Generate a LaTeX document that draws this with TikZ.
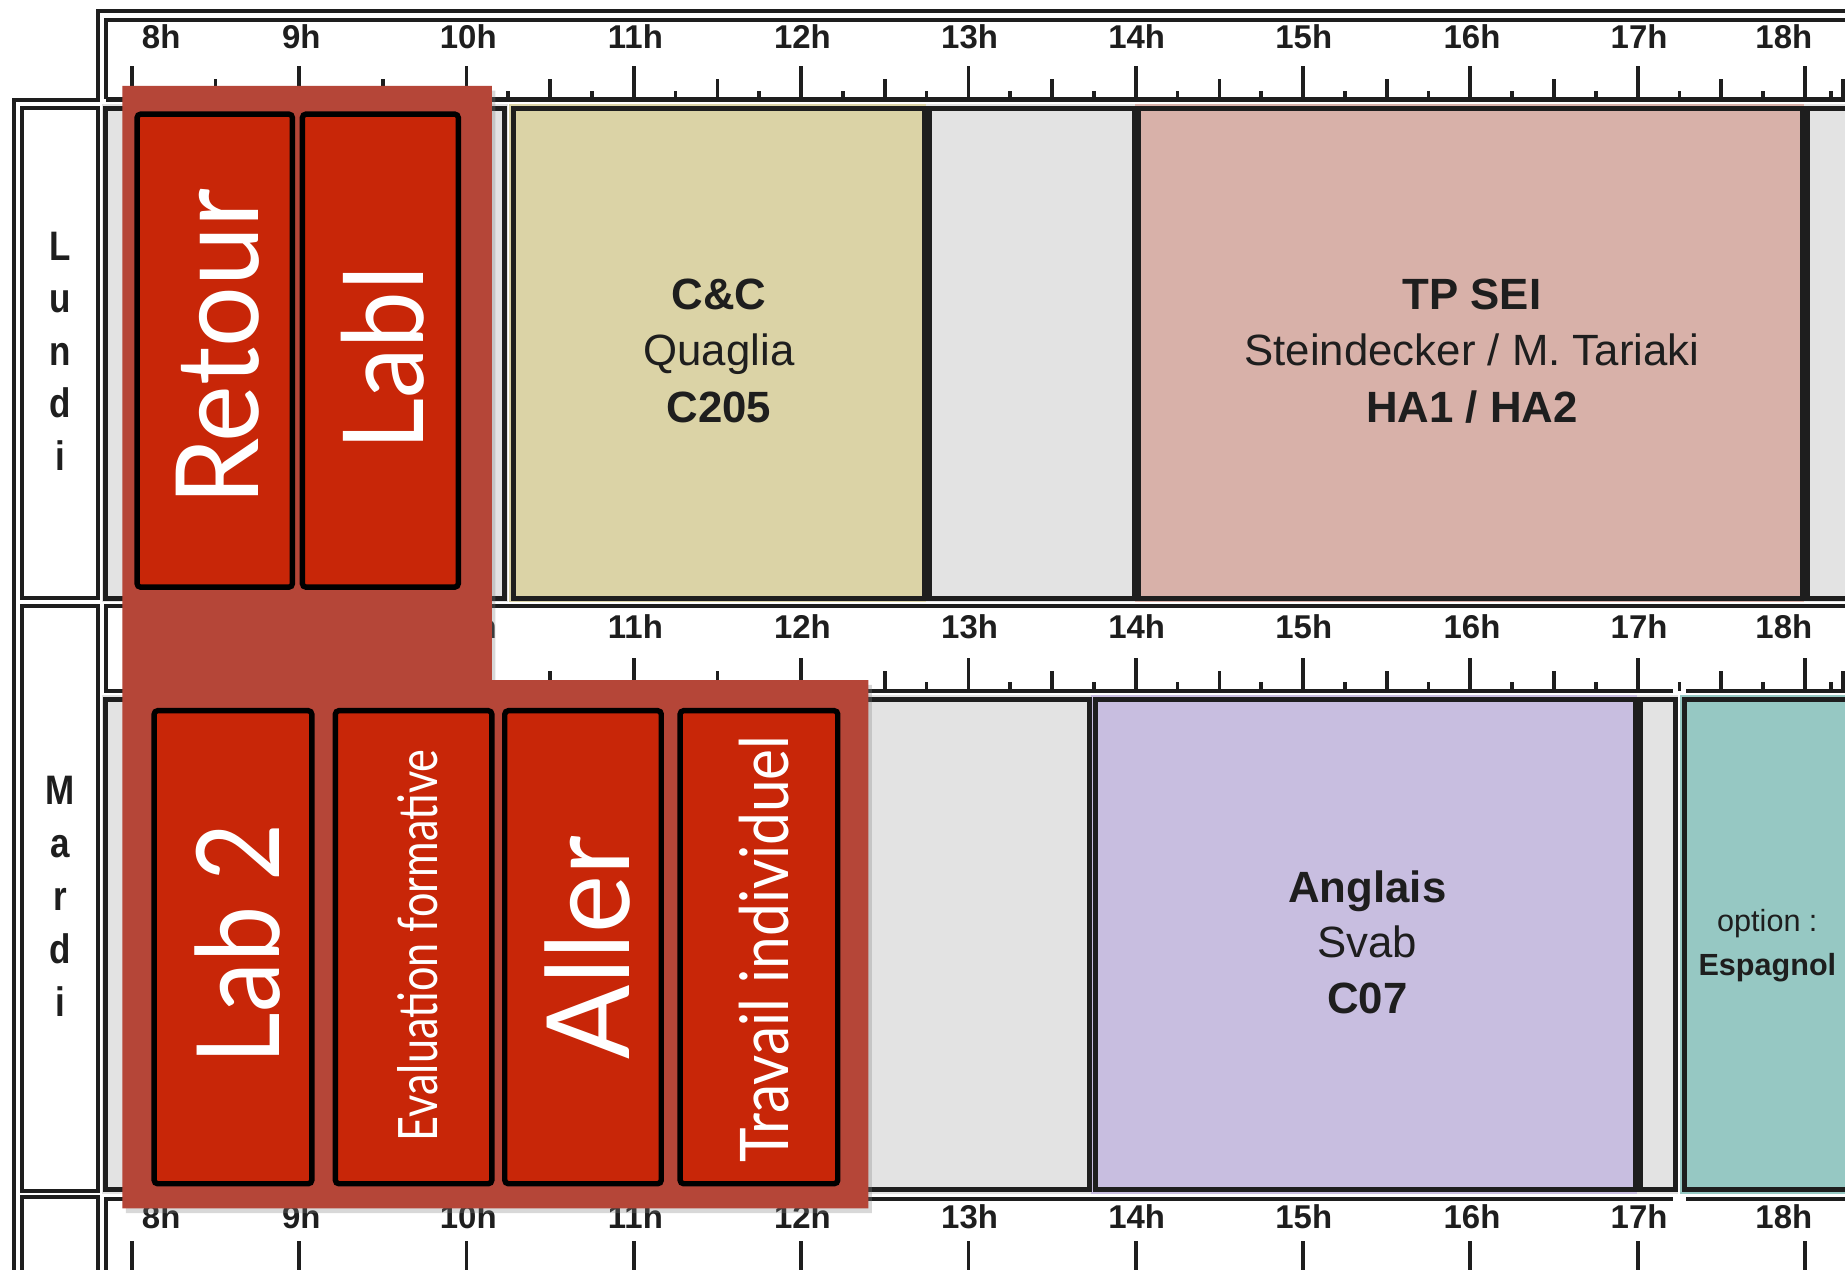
\documentclass[tikz,border=0pt]{standalone}
\usepackage{fontspec}
\usepackage{graphicx}
\setmainfont{Liberation Sans}
\newfontfamily\gill{Lato}
\usetikzlibrary{shadows}
\definecolor{ink}{RGB}{30,30,30}
\definecolor{lgray}{RGB}{227,227,227}
\definecolor{khaki}{RGB}{219,211,166}
\definecolor{pinkc}{RGB}{216,177,169}
\definecolor{purp}{RGB}{200,190,224}
\definecolor{tealc}{RGB}{150,200,195}
\definecolor{panelred}{RGB}{181,70,56}
\definecolor{boxred}{RGB}{200,38,8}
\newcommand\drawruler[4]{% #1 label y, #2 baseline y, #3 prefix, #4 extra ticks (1/0)
  \foreach \h in {0,...,10} {\draw[tick] ({112+\h*142.2},#2) -- ++(0,-28);}
  \foreach \h in {0,...,9} {\draw[tick] ({112+(\h+0.5)*142.2},#2) -- ++(0,-17);}
  \foreach \h in {0,...,9} {\draw[tick] ({112+(\h+0.25)*142.2},#2) -- ++(0,-7);
                            \draw[tick] ({112+(\h+0.75)*142.2},#2) -- ++(0,-7);}
  \draw[tick] (1556,#2) -- ++(0,-7);
  \draw[tick] (1566,#2) -- ++(0,-17);
  \foreach \lab/\x in {8h/137,9h/256,10h/398,11h/540,12h/682,13h/824,14h/966,15h/1108,16h/1251,17h/1393,18h/1516}
    {\node[hlab] (#3\lab) at (\x,#1) {\lab};}
}
\begin{document}
\begin{tikzpicture}[x=0.5pt,y=-0.5pt,
  frame/.style={draw=ink,line width=1.75pt},
  cellb/.style={draw=ink,line width=2.1pt},
  tick/.style={draw=ink,line width=1.6pt},
  hlab/.style={font=\fontsize{14}{14}\selectfont\bfseries,text=ink,inner sep=0pt},
  daylab/.style={font=\fontsize{17.5}{17.5}\selectfont\bfseries,text=ink,inner sep=0pt,anchor=base},
  big/.style={font=\fontsize{18.6}{18.6}\selectfont,text=ink,inner sep=0pt,anchor=base},
  bigb/.style={big,font=\fontsize{18.6}{18.6}\selectfont\bfseries},
  small/.style={font=\fontsize{13}{13}\selectfont,text=ink,inner sep=0pt,anchor=base},
  smallb/.style={small,font=\fontsize{13}{13}\selectfont\bfseries},
  redbox/.style={fill=boxred,draw=black,line width=2.3pt,rounded corners=1.5pt,
     drop shadow={shadow xshift=0.8pt,shadow yshift=-0.8pt,opacity=0.35}},
  redtxt/.style={text=white,inner sep=0pt,rotate=90,font=\gill},
]
\useasboundingbox (0,0) rectangle (1568,1079);
\clip (0,0) rectangle (1568,1079);
\fill[white] (0,0) rectangle (1568,1079);

% ---------- course boxes: expanded fills ----------
\fill[lgray] (87,88.5) rectangle (431.5,512);
\fill[khaki] (432.5,88.5) rectangle (789.5,512);
\fill[lgray] (787,88.5) rectangle (967,512);
\fill[pinkc] (965,88.5) rectangle (1535.5,512);
\fill[lgray] (1533,88.5) rectangle (1700,512);
\fill[lgray] (87,591) rectangle (929,1014.5);
\fill[purp] (927.5,591) rectangle (1393,1014.5);
\fill[lgray] (1391,591) rectangle (1426,1014.5);
\fill[tealc] (1427.5,591) rectangle (1700,1014.5);
% ---------- course boxes: borders ----------
\draw[cellb] (90,92) rectangle (428.5,508.5);
\draw[cellb] (436,92) rectangle (786,508.5);
\draw[cellb] (790,92) rectangle (964,508.5);
\draw[cellb] (968,92) rectangle (1532,508.5);
\draw[cellb] (1536,92) rectangle (1710,508.5);
\draw[cellb] (90,594.5) rectangle (926,1011);
\draw[cellb] (931,594.5) rectangle (1390,1011);
\draw[cellb] (1394,594.5) rectangle (1424,1011);
\draw[cellb] (1431.5,594.5) rectangle (1710,1011);

% ---------- frames ----------
\draw[frame] (1700,9) -- (83,9) -- (83,85) -- (12,85) -- (12,1100);
\draw[frame] (1700,17) -- (90,17) -- (90,84.5);
\draw[ink,line width=2pt] (90,84.5) -- (1700,84.5);
\draw[frame] (19,92) rectangle (83,508.5);
\draw[frame] (19,515) rectangle (83,1012);
\draw[frame] (19,1017) rectangle (83,1110);
% ruler 2
\draw[frame] (1700,515) -- (90,515) -- (90,587) -- (1422,587);
\draw[frame] (1433,587) -- (1700,587);
% ruler 3
\draw[frame] (90,1110) -- (90,1019) -- (1422,1019);
\draw[frame] (1433,1019) -- (1700,1019);

% ---------- rulers ----------
\drawruler{31.5}{84.5}{ra}{1}
\drawruler{532.5}{587}{rb}{1}
\foreach \h in {0,...,10} {\draw[tick] ({112+\h*142.2},1055) -- ({112+\h*142.2},1100);}
\foreach \lab/\x in {8h/137,9h/256,10h/398,11h/540,12h/682,13h/824,14h/966,15h/1108,16h/1251,17h/1393,18h/1516}
  {\node[hlab] (rc\lab) at (\x,1034) {\lab};}

% ---------- day labels ----------
\foreach \c/\y [count=\i] in {L/221.5,u/266,n/310.5,d/355,i/399.5}
  {\node[daylab] (lun\i) at (51,\y) {\scalebox{0.85}[1]{\c}};}
\foreach \c/\y [count=\i] in {M/684,a/729,r/774,d/819,i/864}
  {\node[daylab] (mar\i) at (51,\y) {\scalebox{0.85}[1]{\c}};}

% ---------- course texts ----------
\node[bigb] (cc1) at (611,263) {C\&C};
\node[big]  (cc2) at (611,311) {Quaglia};
\node[bigb] (cc3) at (611,359) {C205};
\node[bigb] (tp1) at (1251,263) {TP SEI};
\node[big]  (tp2) at (1251,311) {Steindecker / M. Tariaki};
\node[bigb] (tp3) at (1251,359) {HA1 / HA2};
\node[bigb] (an1) at (1162,767) {Anglais};
\node[big]  (an2) at (1162,814) {Svab};
\node[bigb] (an3) at (1162,861) {C07};
\node[small]  (es1) at (1502,792) {option :};
\node[smallb] (es2) at (1502,829) {Espagnol};

% ---------- red overlay panel ----------
\fill[panelred, drop shadow={shadow xshift=1.5pt,shadow yshift=-2pt,opacity=0.3}]
  (104,73) -- (418,73) -- (418,578) -- (738,578) -- (738,1027) -- (104,1027) -- cycle;
\draw[redbox] (116.5,97) rectangle (248.5,499);
\draw[redbox] (257,97) rectangle (389.5,499);
\draw[redbox] (131,604) rectangle (265,1006);
\draw[redbox] (285,604) rectangle (418,1006);
\draw[redbox] (429,604) rectangle (562,1006);
\draw[redbox] (578,604) rectangle (712,1006);
\node[redtxt] (retour) at (185,295) {\resizebox{135pt}{35pt}{Retour}};
\node[redtxt] (labA) at (325,304) {\resizebox{79pt}{35pt}{LabI}};
\node[redtxt] (labB) at (202,802) {\resizebox{102.5pt}{36pt}{Lab 2}};
\node[redtxt] (evalf) at (355,803.5) {\resizebox{166.5pt}{17pt}{Evaluation formative}};
\node[redtxt] (aller) at (499,805) {\resizebox{95pt}{36pt}{Aller}};
\node[redtxt] (travail) at (649,806.5) {\resizebox{181.5pt}{21pt}{Travail individuel}};
\end{tikzpicture}
\end{document}
